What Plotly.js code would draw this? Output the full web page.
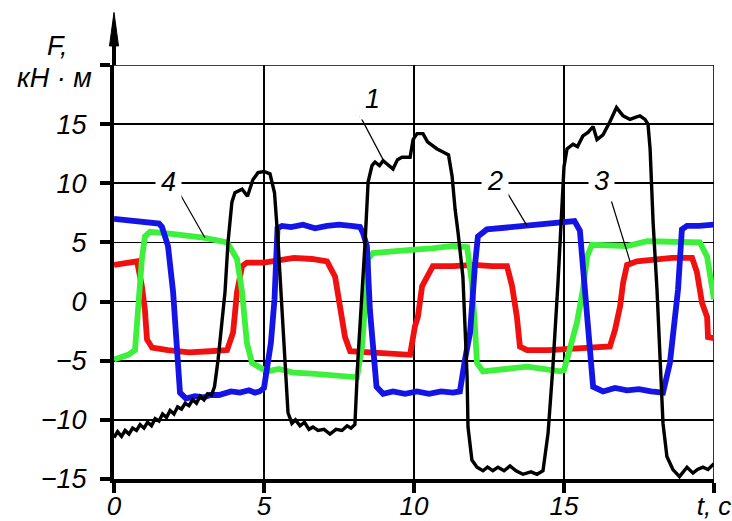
<!DOCTYPE html>
<html>
<head>
<meta charset="utf-8">
<script src="https://cdn.plot.ly/plotly-3.0.1.min.js"></script>
<style>
  html, body { margin: 0; padding: 0; background: #ffffff; }
  #chart { width: 732px; height: 521px; }
</style>
</head>
<body>
<div id="chart"></div>
<script>
// Time axis ticks (s) and force axis ticks (kN·m)
const xTickVals = [0, 5, 10, 15, 20];
const xTickText = ['0', '5', '10', '15', 't, c'];
const yTickVals = [-15, -10, -5, 0, 5, 10, 15, 20];
const yTickText = ['\u221215', '\u221210', '\u22125', '0', '5', '10', '15', ''];

// Curve 1 (black)
const t1 = [0, 0.12, 0.25, 0.37, 0.5, 0.62, 0.75, 0.87, 1.0, 1.12, 1.25, 1.37, 1.5, 1.62, 1.75, 1.87, 2.0, 2.12, 2.25, 2.37, 2.5, 2.62, 2.75, 2.87, 3.0, 3.12, 3.25,
  3.35, 3.47, 3.6, 3.7, 3.8, 3.93, 4.03, 4.27, 4.45, 4.63, 4.8, 5.0, 5.2, 5.35, 5.47, 5.6, 5.7, 5.8, 5.93,
  6.05, 6.2, 6.35, 6.5, 6.63, 6.8, 7.0, 7.2, 7.4, 7.6, 7.77, 7.9, 8.03,
  8.13, 8.27, 8.37, 8.47, 8.6, 8.7, 8.85, 8.97, 9.15, 9.3, 9.45, 9.6, 9.87, 9.97, 10.1, 10.3, 10.45, 10.6, 10.77, 11.0, 11.15,
  11.27, 11.37, 11.47, 11.63, 11.7, 11.77, 11.8, 11.93, 12.1, 12.3, 12.45, 12.63, 12.8, 13.0, 13.2, 13.4, 13.63, 13.9, 14.1, 14.3,
  14.47, 14.63, 14.8, 14.93, 15.0, 15.1, 15.3, 15.45, 15.63, 15.8, 15.97, 16.1, 16.3, 16.53, 16.75, 16.97, 17.2, 17.4, 17.53, 17.7, 17.8,
  17.87, 17.97, 18.1, 18.2, 18.3, 18.43, 18.63, 18.85, 19.1, 19.3, 19.45, 19.63, 19.8, 20.0];
const f1 = [-11.5, -11.0, -11.4, -10.9, -11.2, -10.7, -10.9, -10.4, -10.7, -10.2, -10.5, -9.9, -10.1, -9.5, -9.8, -9.2, -9.5, -8.9, -9.1, -8.6, -8.8, -8.3, -8.6, -8.0, -8.3, -7.8, -7.9,
  -7.2, -4.9, -1.5, 0.8, 5.0, 8.4, 9.2, 9.5, 8.9, 10.3, 10.9, 11.0, 10.8, 9.2, 5.0, -0.7, -5.5, -9.4, -10.3,
  -10.0, -10.5, -10.2, -10.8, -10.6, -10.9, -10.8, -11.2, -10.8, -10.9, -10.5, -10.7, -10.4,
  -4.9, 0.8, 5.0, 10.1, 11.5, 11.8, 11.5, 11.9, 11.5, 11.2, 12.0, 12.2, 12.2, 13.7, 14.2, 14.2, 13.5, 13.2, 12.9, 12.6, 12.4,
  10.6, 7.8, 5.8, 2.1, -2.1, -6.4, -10.6, -13.4, -14.0, -14.3, -14.0, -14.3, -14.0, -14.3, -13.9, -14.3, -14.6, -14.4, -14.6, -14.3,
  -11.1, -5.5, 1.6, 7.2, 11.4, 12.9, 13.3, 13.1, 14.0, 14.3, 14.8, 13.7, 14.1, 15.2, 16.4, 15.7, 15.4, 15.6, 15.7, 15.4, 15.0,
  12.9, 6.7, 1.0, -4.7, -10.3, -13.1, -14.2, -14.8, -14.0, -14.5, -14.2, -14.0, -14.2, -13.7];

// Curve 2 (blue)
const t2 = [0, 0.3, 0.6, 0.9, 1.2, 1.5, 1.6, 1.8, 1.97, 2.07, 2.2, 2.4, 2.7, 3.0, 3.2, 3.5, 3.9, 4.2, 4.5, 4.7, 4.85, 5.0,
  5.1, 5.23, 5.35, 5.45, 5.6, 5.9, 6.3, 6.7, 7.1, 7.5, 7.9, 8.2,
  8.3, 8.43, 8.53, 8.65, 8.75, 8.97, 9.3, 9.7, 10.1, 10.5, 10.9, 11.3, 11.53,
  11.7, 11.87, 12.03, 12.13, 12.43, 12.8, 13.2, 13.6, 14.0, 14.4, 14.8, 15.2, 15.35,
  15.53, 15.65, 15.77, 15.87, 15.97, 16.3, 16.7, 17.1, 17.5, 17.9, 18.3,
  18.53, 18.7, 18.8, 18.93, 19.1, 19.5, 20.0];
const f2 = [7.0, 6.9, 6.8, 6.8, 6.7, 6.6, 6.3, 4.7, 0.8, -3.5, -7.7, -8.2, -8.0, -8.1, -7.9, -7.9, -7.6, -7.7, -7.5, -7.7, -7.6, -7.3,
  -5.8, -3.5, 0.2, 6.2, 6.4, 6.3, 6.5, 6.2, 6.4, 6.5, 6.4, 6.3,
  5.8, 4.7, -0.7, -4.9, -7.2, -7.8, -7.6, -7.8, -7.6, -7.8, -7.6, -7.7, -7.6,
  -4.9, -2.6, 3.0, 5.5, 6.1, 6.2, 6.3, 6.3, 6.5, 6.6, 6.7, 6.8, 6.8,
  6.0, 2.5, -0.4, -4.7, -7.2, -7.6, -7.3, -7.5, -7.4, -7.6, -7.7,
  -5.2, -1.8, 1.0, 6.1, 6.4, 6.4, 6.5];

// Curve 3 (red)
const t3 = [0, 0.4, 0.77, 0.93, 1.03, 1.1, 1.27, 1.8, 2.5, 3.2, 3.77, 3.97, 4.1, 4.27, 4.43, 5.0, 5.6, 6.0, 6.6, 7.1,
  7.37, 7.53, 7.7, 7.87, 8.5, 9.2, 9.87, 10.03, 10.13, 10.27, 10.43, 10.63, 11.3, 12.0, 12.6, 13.1,
  13.27, 13.43, 13.53, 13.77, 14.5, 15.2, 16.0, 16.53, 16.7, 16.87, 16.97, 17.1, 17.43, 18.0, 18.6, 19.27,
  19.43, 19.6, 19.77, 19.8, 20.0];
const f3 = [3.1, 3.2, 3.4, 1.3, -0.7, -3.2, -3.9, -4.1, -4.3, -4.2, -4.1, -2.6, 0.8, 3.0, 3.3, 3.3, 3.5, 3.7, 3.6, 3.4,
  2.1, -0.7, -3.0, -4.2, -4.3, -4.4, -4.5, -2.1, -1.3, 1.3, 2.1, 3.0, 3.0, 3.1, 3.0, 3.0,
  1.3, -1.3, -3.8, -4.1, -4.1, -4.0, -3.9, -3.8, -2.4, -0.4, 1.6, 3.1, 3.4, 3.6, 3.7, 3.7,
  2.5, -0.1, -1.3, -3.0, -3.1];

// Curve 4 (green)
const t4 = [0, 0.47, 0.7, 0.8, 0.93, 1.03, 1.2, 2.0, 2.97, 3.77, 4.1, 4.27, 4.43, 4.6, 5.1, 5.5, 5.97, 6.6, 7.4, 8.1,
  8.27, 8.37, 8.47, 8.63, 9.3, 10.0, 10.6, 11.3, 11.77, 11.93, 12.03, 12.1, 12.3, 13.0, 13.77, 14.3, 14.87, 15.0,
  15.2, 15.43, 15.63, 15.77, 15.93, 16.5, 17.1, 17.77, 18.53, 19.2, 19.53, 19.77, 19.93, 20.0];
const f4 = [-4.9, -4.5, -4.1, -0.4, 3.6, 5.5, 5.9, 5.7, 5.4, 5.0, 3.6, 0.8, -3.5, -5.2, -5.9, -5.7, -6.0, -6.1, -6.3, -6.4,
  -3.8, 0.8, 3.6, 4.1, 4.3, 4.4, 4.5, 4.7, 4.6, 1.6, -2.1, -5.2, -5.9, -5.7, -5.5, -5.7, -5.9, -5.8,
  -3.8, -1.8, 1.0, 3.8, 4.8, 4.8, 4.7, 5.1, 5.1, 5.1, 5.0, 3.8, 1.6, 0.2];

// Curve numbers and the points their leader lines run between
const curveLabels = ['1', '2', '3', '4'];
const labelT = [8.6, 12.7, 16.25, 1.8];
const labelF = [17.1, 10.2, 10.2, 10.1];
const leaderFrom = [[8.2, 15.7], [13.13, 9.1], [16.53, 8.9], [2.2, 9.1]];
const leaderTo = [[8.97, 12.0], [13.77, 6.4], [17.2, 3.4], [3.03, 5.4]];

const FONT = 'Liberation Sans, Arial, sans-serif';

const traces = [
  { x: t3, y: f3, color: '#f01010', width: 5.8 },
  { x: t4, y: f4, color: '#3cf03c', width: 5.8 },
  { x: t2, y: f2, color: '#1414e6', width: 5.8 },
  { x: t1, y: f1, color: '#000000', width: 3.4 }
].map(s => ({
  type: 'scatter', mode: 'lines', x: s.x, y: s.y,
  line: { color: s.color, width: s.width, shape: 'linear' },
  hoverinfo: 'skip', showlegend: false
}));

const annotations = curveLabels.map((txt, i) => ({
  x: labelT[i], y: labelF[i], xref: 'x', yref: 'y',
  xanchor: 'center', yanchor: 'middle',
  text: txt, showarrow: false, bgcolor: '#ffffff', borderpad: 5,
  font: { family: FONT, size: 27, color: '#000', style: 'italic' }
}));
// axis caption: quantity and unit
annotations.push({
  x: -0.095, y: 1.045, xref: 'paper', yref: 'paper', xanchor: 'center', yanchor: 'middle',
  text: 'F,', showarrow: false,
  font: { family: FONT, size: 27, color: '#000', style: 'italic' }
});
annotations.push({
  x: -0.033, y: 0.968, xref: 'paper', yref: 'paper', xanchor: 'right', yanchor: 'middle',
  text: '\u043a\u041d \u00b7 \u043c', showarrow: false,
  font: { family: FONT, size: 27, color: '#000', style: 'italic' }
});

const shapes = leaderFrom.map((p, i) => ({
  type: 'line', xref: 'x', yref: 'y',
  x0: p[0], y0: p[1], x1: leaderTo[i][0], y1: leaderTo[i][1],
  line: { color: '#000', width: 1.2 }
}));
// upper and right grid borders
shapes.push({ type: 'line', xref: 'paper', yref: 'y', x0: 0, x1: 1, y0: 20, y1: 20, line: { color: '#000', width: 1.6 }, layer: 'below' });
shapes.push({ type: 'line', xref: 'x', yref: 'paper', x0: 20, x1: 20, y0: 0, y1: 1, line: { color: '#000', width: 1.6 }, layer: 'below' });
// vertical axis extended upward with an arrowhead
shapes.push({ type: 'line', xref: 'paper', yref: 'paper', x0: 0, x1: 0, y0: 1, y1: 1.1, line: { color: '#000', width: 4 } });
shapes.push({ type: 'path', xref: 'paper', yref: 'paper', path: 'M 0,1.127 L -0.0075,1.046 L 0.0075,1.046 Z', fillcolor: '#000', line: { color: '#000', width: 1 } });

const tickFont = { family: FONT, size: 27, color: '#000', style: 'italic' };

const layout = {
  width: 732, height: 521,
  margin: { l: 114, r: 18, t: 65, b: 42 },
  paper_bgcolor: '#ffffff', plot_bgcolor: '#ffffff',
  showlegend: false,
  xaxis: {
    range: [0, 20], tickmode: 'array', tickvals: xTickVals, ticktext: xTickText,
    showgrid: true, gridcolor: '#000', gridwidth: 1.6, zeroline: false,
    showline: true, linecolor: '#000', linewidth: 4,
    ticks: 'outside', ticklen: 10, tickwidth: 4, tickcolor: '#000',
    ticklabelstandoff: -9, ticklabeloverflow: 'allow',
    tickfont: { family: FONT, size: 26, color: '#000', style: 'italic' }, fixedrange: true
  },
  yaxis: {
    range: [-15, 20], tickmode: 'array', tickvals: yTickVals, ticktext: yTickText,
    showgrid: true, gridcolor: '#000', gridwidth: 1.6, zeroline: false,
    showline: true, linecolor: '#000', linewidth: 4,
    ticks: 'outside', ticklen: 10, tickwidth: 4, tickcolor: '#000',
    ticklabelstandoff: 8,
    tickfont: tickFont, fixedrange: true
  },
  annotations: annotations,
  shapes: shapes
};

Plotly.newPlot('chart', traces, layout, { staticPlot: true, displayModeBar: false });
</script>
</body>
</html>
